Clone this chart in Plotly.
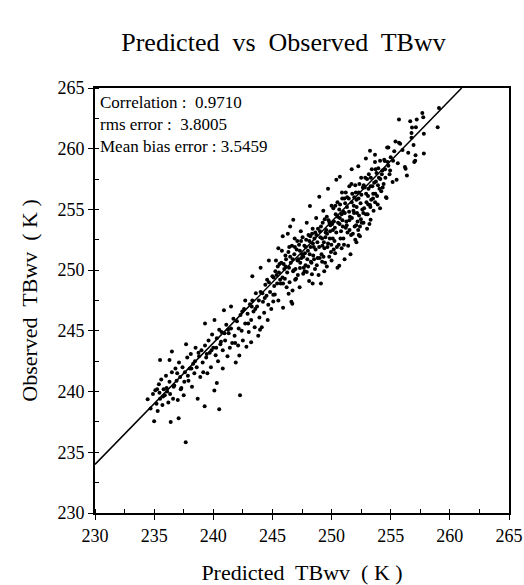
import plotly.graph_objects as go

# (predicted, observed) pairs, by region
low_pts = [
    (234.45, 239.37), (234.7, 238.6), (234.9, 239.8), (235.0, 237.56), (235.1, 240.1),
    (235.2, 239.0), (235.3, 238.4), (235.4, 240.6), (235.5, 242.6), (235.5, 239.4),
    (235.6, 241.0), (235.7, 238.9), (235.8, 240.2), (235.9, 239.7), (236.0, 241.3),
    (236.1, 240.0), (236.2, 239.1), (236.3, 242.6), (236.3, 240.8), (236.4, 237.5),
    (236.5, 243.3), (236.5, 241.6), (236.6, 239.4), (236.7, 240.5), (236.8, 241.9),
    (236.9, 240.9), (237.0, 239.3), (237.07, 237.8), (237.1, 242.4), (237.2, 241.2),
    (237.3, 240.3), (237.4, 242.0), (237.5, 239.7), (237.6, 241.6), (237.67, 235.83),
    (237.7, 243.9), (237.8, 242.8), (237.9, 240.9), (238.0, 241.9), (238.1, 243.1),
    (238.2, 240.4), (238.3, 242.3), (238.4, 241.5), (238.5, 243.6), (238.6, 242.0),
    (238.68, 239.4), (238.8, 242.9), (238.9, 241.2), (239.0, 243.4), (239.1, 242.4),
    (239.27, 238.8), (239.3, 245.6), (239.3, 243.8), (239.4, 242.8), (239.5, 241.5),
    (239.6, 244.2), (239.7, 243.2), (239.8, 242.0), (239.9, 244.7), (240.0, 243.6),
]

mid_pts = [
    (240.09, 240.08), (240.1, 245.9), (240.2, 243.0), (240.3, 240.7), (240.3, 244.4),
    (240.4, 242.5), (240.5, 238.55), (240.5, 245.1), (240.6, 243.9), (240.7, 244.9),
    (240.8, 241.9), (240.8, 243.4), (240.9, 246.7), (241.0, 244.2), (241.1, 245.5),
    (241.2, 242.9), (241.3, 244.8), (241.4, 243.6), (241.5, 247.0), (241.5, 245.2),
    (241.6, 244.0), (241.7, 246.0), (241.8, 244.6), (241.9, 242.4), (242.0, 245.8),
    (242.1, 243.8), (242.2, 242.97), (242.26, 239.7), (242.3, 246.3), (242.4, 245.0),
    (242.5, 244.2), (242.6, 246.8), (242.7, 247.5), (242.7, 245.6), (242.8, 243.7),
    (242.9, 246.4), (243.0, 244.9), (243.1, 247.2), (243.2, 244.07), (243.2, 245.9),
    (243.3, 249.5), (243.3, 247.5), (243.4, 246.6), (243.5, 245.3), (243.6, 248.1),
    (243.7, 247.0), (243.8, 244.6), (243.9, 246.1), (243.95, 245.1), (244.0, 250.2),
    (244.0, 248.2), (244.1, 245.3), (244.2, 247.4), (244.3, 246.5), (244.4, 248.8),
    (244.5, 247.9), (244.6, 245.9), (244.65, 247.15), (244.7, 250.8), (244.7, 249.0),
    (244.8, 248.2), (244.9, 246.8), (245.0, 249.5), (245.07, 247.42), (245.07, 247.97),
]

core_pts = [
    (245.1, 249.4), (245.2, 248.0), (245.3, 250.8), (245.4, 248.9), (245.5, 251.8),
    (245.5, 247.5), (245.6, 250.5), (245.7, 248.9), (245.8, 251.6), (245.87, 252.8),
    (245.9, 246.9), (245.9, 248.9), (246.0, 250.1), (246.1, 251.2), (246.2, 248.6),
    (246.3, 253.0), (246.37, 248.05), (246.4, 250.2), (246.5, 253.6), (246.5, 251.1),
    (246.6, 247.4), (246.68, 247.23), (246.7, 248.33), (246.76, 254.15), (246.8, 250.0),
    (246.9, 251.9), (247.0, 249.3), (247.1, 252.4), (247.2, 250.9), (247.3, 248.6),
    (247.33, 250.17), (247.4, 253.2), (247.5, 251.3), (247.6, 249.7), (247.7, 252.0),
    (247.8, 250.4), (247.9, 249.84), (247.9, 253.9), (248.0, 251.6), (248.1, 249.1),
    (248.17, 255.28), (248.2, 252.8), (248.3, 250.6), (248.34, 249.67), (248.4, 248.9),
    (248.4, 253.4), (248.5, 251.9), (248.6, 250.1), (248.7, 254.3), (248.8, 252.3),
    (248.9, 249.6), (248.96, 256.05), (249.0, 251.0), (249.1, 248.9), (249.1, 253.6),
    (249.2, 250.7), (249.2, 252.6), (249.3, 254.9), (249.38, 249.9), (249.4, 251.8),
    (249.5, 253.1), (249.6, 250.3), (249.6, 254.4), (249.7, 256.7), (249.7, 252.2),
    (249.8, 251.1), (249.9, 253.7), (250.0, 250.8), (250.0, 255.3), (250.1, 252.6),
    (250.2, 254.0), (250.3, 251.4), (250.4, 257.45), (250.4, 253.1), (250.5, 250.2),
    (250.5, 255.6), (250.6, 252.1), (250.65, 250.36), (250.7, 257.7), (250.7, 254.3),
    (250.8, 253.2), (250.85, 251.8), (250.9, 255.9), (251.0, 252.6), (251.0, 254.8),
    (251.1, 250.9), (251.2, 256.4), (251.2, 253.5), (251.3, 255.2), (251.4, 252.0),
    (251.5, 254.1), (251.5, 256.9), (251.6, 251.3), (251.7, 258.3), (251.7, 255.6),
    (251.8, 253.0), (251.9, 254.7), (252.0, 252.5), (252.0, 257.0), (252.1, 252.3),
    (252.1, 255.8), (252.2, 254.0), (252.26, 258.55), (252.3, 256.4), (252.3, 252.9),
    (252.4, 252.8), (252.4, 253.6), (252.5, 257.6), (252.6, 255.0), (252.7, 253.9),
    (252.8, 256.8), (252.9, 259.2), (252.9, 254.6), (253.0, 257.5), (253.0, 253.4),
    (253.1, 255.4), (253.2, 253.8), (253.25, 255.37), (253.25, 259.84), (253.3, 254.15),
    (253.3, 256.9), (253.4, 258.3), (253.5, 255.9), (253.6, 257.2), (253.67, 259.5),
    (253.67, 258.9), (253.7, 256.3), (253.8, 258.0), (253.9, 255.4), (254.0, 257.6),
    (254.1, 259.0), (254.1, 255.1), (254.2, 256.5), (254.3, 258.2), (254.4, 257.1),
]

fill_pts = [
    (246.05, 249.3), (246.15, 250.9), (246.25, 249.8), (246.35, 251.5), (246.45, 249.0),
    (246.55, 250.6), (246.65, 252.0), (246.75, 249.9), (246.85, 251.3), (246.95, 250.1),
    (247.05, 251.7), (247.15, 249.6), (247.25, 252.1), (247.35, 250.6), (247.45, 251.0),
    (247.55, 252.7), (247.65, 250.2), (247.75, 251.4), (247.85, 252.5), (247.95, 250.9),
    (248.05, 252.9), (248.15, 251.3), (248.25, 250.7), (248.35, 253.0), (248.45, 251.2),
    (248.55, 252.6), (248.65, 251.7), (248.75, 250.4), (248.85, 253.4), (248.95, 251.9),
    (249.05, 252.7), (249.15, 251.3), (249.25, 253.9), (249.35, 252.3), (249.45, 250.6),
    (249.55, 253.3), (249.65, 251.9), (249.75, 254.1), (249.85, 252.6), (249.95, 251.5),
    (250.05, 253.8), (250.15, 255.1), (250.25, 252.4), (250.35, 254.6), (250.45, 251.9),
    (250.55, 253.9), (250.65, 255.0), (250.75, 252.6), (250.85, 254.6), (250.95, 253.6),
    (251.05, 252.1), (251.15, 255.5), (251.25, 254.0), (251.35, 253.1), (251.45, 255.9),
    (251.55, 254.4), (251.65, 252.9), (251.75, 256.3), (251.85, 254.9), (251.95, 253.6),
    (252.05, 256.4), (252.15, 254.7), (252.25, 253.3), (252.35, 257.1), (252.45, 255.5),
    (252.55, 253.9), (252.65, 256.8), (252.75, 255.1), (252.85, 257.6), (252.95, 255.6),
    (253.05, 254.6), (253.15, 257.9), (253.35, 255.8), (253.45, 256.9), (253.55, 254.9),
    (253.75, 257.3), (253.85, 256.1), (253.95, 258.4), (254.05, 256.7), (254.25, 257.9),
    (254.45, 259.1), (254.55, 257.6), (254.75, 258.9), (254.95, 258.2), (255.2, 259.0),
    (255.4, 260.6), (245.15, 248.7), (245.35, 249.6), (245.45, 250.3), (245.65, 249.2),
    (245.75, 250.6), (245.95, 250.5), (244.35, 247.7), (244.55, 249.2), (244.15, 248.1),
    (243.85, 247.5), (243.55, 246.8), (243.25, 247.0), (242.95, 245.6), (242.45, 246.6),
    (242.15, 245.2), (241.85, 244.0), (241.25, 245.1), (240.95, 244.8), (240.65, 244.1),
    (240.25, 243.6), (239.85, 243.4), (239.45, 243.1), (239.15, 241.6), (238.75, 243.2),
    (238.45, 242.5), (238.15, 241.9), (237.85, 241.3), (237.55, 240.8), (237.25, 240.2),
    (236.95, 241.5), (236.65, 240.4), (236.35, 239.8), (236.05, 240.3), (235.75, 239.6),
    (235.45, 239.9), (235.25, 240.2),
]

dense_pts = [
    (245.25, 249.9), (245.55, 249.8), (245.85, 249.4), (246.12, 250.3), (246.42, 251.9),
    (246.72, 250.9), (246.92, 249.2), (247.12, 250.8), (247.42, 252.4), (247.62, 251.1),
    (247.82, 251.9), (248.02, 250.3), (248.22, 251.9), (248.42, 252.2), (248.62, 253.1),
    (248.82, 251.0), (249.02, 253.2), (249.22, 252.0), (249.42, 254.2), (249.62, 253.0),
    (249.82, 253.9), (249.98, 252.1), (250.12, 253.3), (250.32, 255.3), (250.52, 254.4),
    (250.72, 255.4), (250.92, 254.1), (251.12, 254.7), (251.32, 256.0), (251.52, 253.3),
    (251.72, 254.3), (251.92, 256.0), (252.12, 255.2), (252.32, 254.5), (252.52, 256.2),
    (252.72, 257.0), (252.92, 256.3), (253.12, 256.7), (253.32, 257.6), (253.52, 256.3),
    (253.72, 258.3), (253.92, 257.0), (254.12, 257.5), (254.32, 256.8), (254.52, 258.3),
    (249.48, 252.7), (249.88, 253.2), (250.28, 253.5), (250.68, 253.8), (251.08, 255.9),
    (251.48, 254.8), (251.88, 255.3), (252.28, 255.9), (252.68, 254.7), (253.08, 256.1),
    (248.52, 250.9), (248.12, 252.4), (247.72, 249.9), (247.32, 251.6), (246.88, 252.6),
    (250.88, 256.4), (251.28, 253.7), (251.68, 257.1), (252.08, 253.7), (252.48, 254.2),
    (253.28, 255.2), (253.68, 255.6), (249.32, 251.1), (248.72, 252.9), (250.18, 251.7),
]

high_pts = [
    (254.5, 258.99), (254.6, 256.0), (254.65, 255.94), (254.7, 260.1), (254.8, 258.6),
    (254.8, 260.1), (254.9, 257.9), (255.0, 259.3), (255.16, 257.25), (255.3, 259.8),
    (255.5, 257.45), (255.6, 258.8), (255.7, 262.4), (255.7, 260.5), (255.8, 260.4),
    (256.0, 259.9), (256.2, 258.5), (256.26, 258.36), (256.37, 257.8), (256.48, 259.66),
    (256.65, 262.26), (256.76, 261.3), (256.76, 260.9), (256.8, 261.74), (256.93, 260.3),
    (256.99, 258.9), (257.07, 259.0), (257.1, 259.46), (257.13, 261.76), (257.2, 262.4),
    (257.67, 262.95), (257.75, 262.6), (257.8, 261.24), (257.8, 259.6), (258.97, 261.76),
    (259.08, 263.36),
]

fit_slope = 1.0
fit_intercept = 4.0
fit_x = [230, 261]

stats_labels = ["Correlation :  0.9710", "rms error :  3.8005", "Mean bias error : 3.5459"]
tick_vals = [230, 235, 240, 245, 250, 255, 260, 265]

pts = low_pts + mid_pts + core_pts + fill_pts + dense_pts + high_pts
pred = [p[0] for p in pts]
obs = [p[1] for p in pts]
fit_y = [fit_slope * x + fit_intercept for x in fit_x]

SERIF = "Liberation Serif, Times New Roman, serif"

fig = go.Figure()
fig.add_trace(go.Scatter(x=fit_x, y=fit_y, mode="lines",
                         line=dict(color="black", width=1.5), showlegend=False,
                         hoverinfo="skip"))
fig.add_trace(go.Scatter(x=pred, y=obs, mode="markers",
                         marker=dict(color="black", size=4, line=dict(width=0)),
                         showlegend=False))

axis_common = dict(
    range=[230, 265], tickvals=tick_vals, ticks="outside", ticklen=5, tickwidth=1.2,
    tickcolor="black", showline=True, linecolor="black", linewidth=2, mirror=True,
    showgrid=False, zeroline=False, automargin=False,
    minor=dict(ticks="inside", dtick=2.5, tick0=230, ticklen=4, tickcolor="black",
               tickwidth=1, showgrid=False),
    tickfont=dict(family=SERIF, size=18, color="black"),
)

fig.update_layout(
    width=524, height=585,
    margin=dict(l=95, r=15, t=88, b=72, autoexpand=False),
    paper_bgcolor="white", plot_bgcolor="white",
    title=dict(text="Predicted  vs  Observed  TBwv", x=0.541, xanchor="center",
               y=0.928, yanchor="middle",
               font=dict(family=SERIF, size=26, color="black")),
    xaxis=dict(**axis_common,
               title=dict(text="Predicted  TBwv  ( K )", standoff=20,
                          font=dict(family=SERIF, size=22, color="black"))),
    yaxis=dict(**axis_common,
               title=dict(text="Observed  TBwv  ( K )", standoff=14,
                          font=dict(family=SERIF, size=22, color="black"))),
)

fig.add_annotation(text="<br>".join(stats_labels), xref="paper", yref="paper",
                   x=0.008, y=0.992, xanchor="left", yanchor="top", align="left",
                   showarrow=False,
                   font=dict(family=SERIF, size=17, color="black"))

fig.write_html("out.html")
